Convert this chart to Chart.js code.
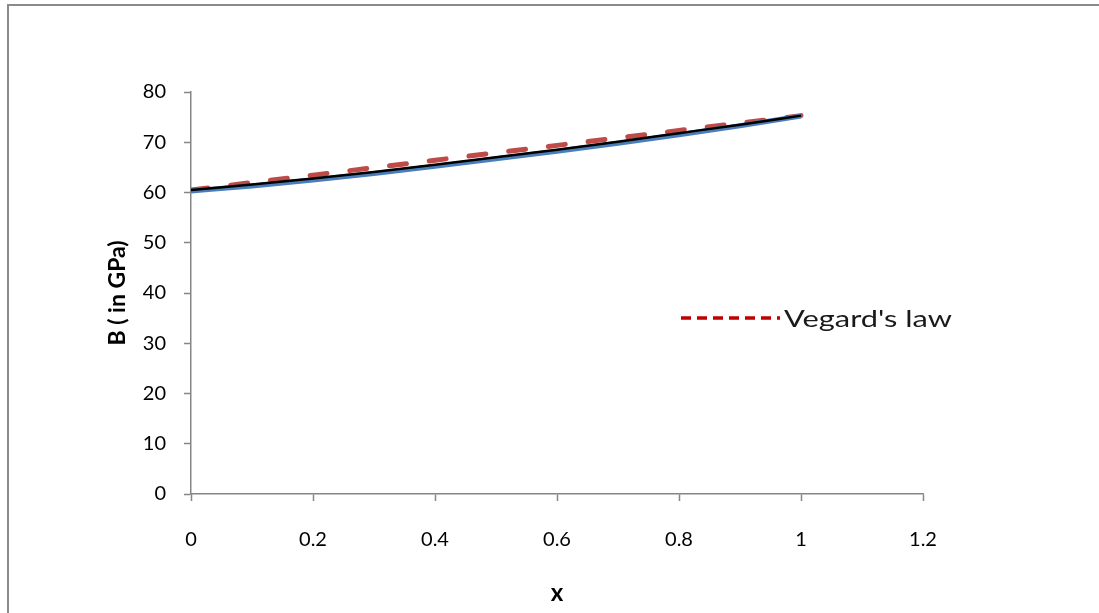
<!DOCTYPE html>
<html>
<head>
<meta charset="utf-8">
<script src="https://cdn.jsdelivr.net/npm/chart.js@4.4.1/dist/chart.umd.min.js"></script>
<style>
    html, body { margin: 0; padding: 0; background: #fff; overflow: hidden; }
    #wrap { position: relative; width: 1099px; height: 613px; }
    #frame {
        position: absolute; left: 7px; top: 4px; width: 1300px; height: 800px;
        border: 2px solid #8a8a8a; box-sizing: border-box; pointer-events: none;
    }
</style>
</head>
<body>
<div id="wrap">
    <canvas id="chart"></canvas>
    <div id="frame"></div>
</div>
<script>
// composition x
const xValues = [0, 0.1, 0.2, 0.3, 0.4, 0.5, 0.6, 0.7, 0.8, 0.9, 1];
// bulk modulus B (GPa)
const blueValues = [60.3, 61.3, 62.5, 63.8, 65.2, 66.7, 68.2, 69.8, 71.5, 73.3, 75.2];
const blackValues = [60.5, 61.6, 62.8, 64.1, 65.5, 67.0, 68.5, 70.1, 71.8, 73.5, 75.3];
const vegardValues = [60.5, 61.98, 63.46, 64.94, 66.42, 67.9, 69.38, 70.86, 72.34, 73.82, 75.3];

const xTicks = [0, 0.2, 0.4, 0.6, 0.8, 1, 1.2];
const yTicks = [0, 10, 20, 30, 40, 50, 60, 70, 80];

const FONT = 'Lato, "Open Sans", sans-serif';

function toPoints(vals) {
    return xValues.map((x, i) => ({ x: x, y: vals[i] }));
}

// legend box drawn inside the plot, only the Vegard's law entry
const vegardLegend = {
    id: 'vegardLegend',
    afterDraw(chart) {
        const ctx = chart.ctx;
        const y = 318;
        ctx.save();
        ctx.strokeStyle = '#c00000';
        ctx.lineWidth = 3.5;
        ctx.setLineDash([10, 6]);
        ctx.beginPath();
        ctx.moveTo(681, y);
        ctx.lineTo(780, y);
        ctx.stroke();
        ctx.setLineDash([]);

        const label = "Vegard's law";
        ctx.font = '24px ' + FONT;
        ctx.fillStyle = '#1a1a1a';
        ctx.textBaseline = 'middle';
        const w = ctx.measureText(label).width;
        const sx = 168 / w;
        ctx.translate(784, y + 1);
        ctx.scale(sx, 1);
        ctx.fillText(label, 0, 0);
        ctx.restore();
    }
};

const axisColor = '#868686';

new Chart(document.getElementById('chart'), {
    type: 'line',
    data: {
        datasets: [{
            label: 'Vegard\'s law',
            data: toPoints(vegardValues),
            borderColor: '#be4b48',
            borderWidth: 5,
            borderDash: [17, 23],
            borderCapStyle: 'round',
            pointRadius: 0,
            order: 2
        }, {
            label: 'calc',
            data: toPoints(blueValues),
            borderColor: '#4a7ebb',
            borderWidth: 5,
            pointRadius: 0,
            cubicInterpolationMode: 'monotone',
            order: 1
        }, {
            label: 'fit',
            data: toPoints(blackValues),
            borderColor: '#000000',
            borderWidth: 2.5,
            pointRadius: 0,
            cubicInterpolationMode: 'monotone',
            order: 0
        }]
    },
    options: {
        responsive: true,
        maintainAspectRatio: false,
        animation: false,
        layout: {
            padding: { left: 100, right: 176, top: 92, bottom: 0 }
        },
        plugins: {
            legend: { display: false },
            tooltip: { enabled: false }
        },
        scales: {
            x: {
                type: 'linear',
                min: 0,
                max: 1.2,
                afterFit: s => { s.height = 119; },
                afterBuildTicks: s => { s.ticks = xTicks.map(v => ({ value: v })); },
                border: { color: axisColor, width: 1.5 },
                grid: { drawOnChartArea: false, drawTicks: true, tickLength: 7, color: axisColor, tickWidth: 1.5 },
                ticks: {
                    padding: 27,
                    color: '#000',
                    font: { family: FONT, size: 20 },
                    callback: v => String(Number(v.toFixed(1)))
                },
                title: {
                    display: true,
                    text: 'x',
                    color: '#000',
                    font: { family: FONT, size: 24, weight: 'bold' },
                    padding: { top: 0, bottom: 5 }
                }
            },
            y: {
                min: 0,
                max: 80,
                afterFit: s => { s.width = 91; },
                afterBuildTicks: s => { s.ticks = yTicks.map(v => ({ value: v })); },
                border: { color: axisColor, width: 1.5 },
                grid: { drawOnChartArea: false, drawTicks: true, tickLength: 7, color: axisColor, tickWidth: 1.5 },
                ticks: {
                    padding: 18,
                    color: '#000',
                    font: { family: FONT, size: 20 }
                },
                title: {
                    display: true,
                    text: 'B ( in GPa)',
                    color: '#000',
                    font: { family: FONT, size: 23, weight: 'bold' },
                    padding: { top: 4, bottom: 0 }
                }
            }
        }
    },
    plugins: [vegardLegend]
});
</script>
</body>
</html>
